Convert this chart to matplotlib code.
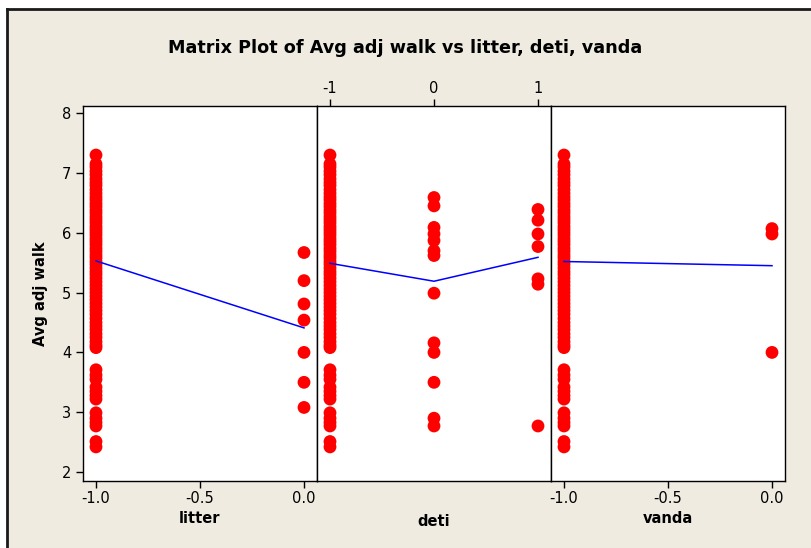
import matplotlib.pyplot as plt
from matplotlib.patches import Rectangle
from matplotlib.lines import Line2D

# Avg adj walk for the observations coded -1 (dense column, same in each panel)
walk_neg = [7.30, 7.15, 7.10, 7.03, 6.97, 6.90, 6.84, 6.79, 6.72, 6.66, 6.60, 6.55,
            6.49, 6.44, 6.38, 6.33, 6.27, 6.22, 6.17, 6.11, 6.06, 6.01, 5.96, 5.90,
            5.85, 5.80, 5.74, 5.69, 5.63, 5.58, 5.52, 5.47, 5.41, 5.35, 5.30, 5.24,
            5.18, 5.12, 5.06, 5.00, 4.94, 4.88, 4.82, 4.76, 4.70, 4.64, 4.57, 4.50,
            4.44, 4.38, 4.31, 4.25, 4.18, 4.12, 4.08, 3.71, 3.62, 3.55, 3.42, 3.35,
            3.28, 3.22, 2.99, 2.90, 2.83, 2.77, 2.51, 2.42]

# other groups
walk_litter0 = [5.67, 5.20, 4.81, 4.54, 4.00, 3.50, 3.08]
walk_deti0 = [6.59, 6.45, 6.09, 5.98, 5.87, 5.70, 5.62, 4.99, 4.16, 4.00, 3.50, 2.90, 2.77]
walk_deti1 = [6.39, 6.21, 5.98, 5.77, 5.23, 5.14, 2.77]
walk_vanda0 = [6.07, 5.98, 4.00]

# smoother values
fit_litter = [5.53, 4.41]
fit_deti = [5.49, 5.19, 5.59]
fit_vanda = [5.52, 5.45]

panels = [
    ("litter", [(-1, walk_neg), (0, walk_litter0)], [-1, 0], fit_litter,
     [-1.0, -0.5, 0.0], ["-1.0", "-0.5", "0.0"], (-1.0625, 0.0625)),
    ("deti", [(-1, walk_neg), (0, walk_deti0), (1, walk_deti1)], [-1, 0, 1], fit_deti,
     [-1, 0, 1], ["-1", "0", "1"], (-1.125, 1.125)),
    ("vanda", [(-1, walk_neg), (0, walk_vanda0)], [-1, 0], fit_vanda,
     [-1.0, -0.5, 0.0], ["-1.0", "-0.5", "0.0"], (-1.0625, 0.0625)),
]

bg = "#EFEBE1"
fig = plt.figure(figsize=(8.11, 5.48), dpi=100, facecolor="white")
# beige panel with dark border on top and left
fig.patches.append(Rectangle((7 / 811, 0), 1, 1 - 9 / 548, transform=fig.transFigure,
                             facecolor=bg, edgecolor="none", zorder=-10))
fig.lines.append(Line2D([7 / 811, 1], [1 - 9 / 548] * 2, transform=fig.transFigure,
                        color="#1a1a1a", lw=2))
fig.lines.append(Line2D([7 / 811] * 2, [0, 1 - 9 / 548], transform=fig.transFigure,
                        color="#1a1a1a", lw=2))

left = 83 / 811
w = 234 / 811
bottom = 1 - 481 / 548
h = 375 / 548

for i, (name, groups, fx, fy, ticks, labels, xlim) in enumerate(panels):
    ax = fig.add_axes([left + i * w, bottom, w, h])
    for x, ys in groups:
        ax.scatter([x] * len(ys), ys, s=85, color="#FF0000", edgecolors="none", zorder=3)
    ax.plot(fx, fy, color="#0000FF", lw=1.1, zorder=4)
    ax.set_xlim(*xlim)
    ax.set_ylim(1.85, 8.12)
    for sp in ax.spines.values():
        sp.set_linewidth(1.0)
        sp.set_color("black")
    ax.tick_params(direction="out", length=5, width=1, labelsize=10.5, colors="black")
    if i == 0:
        ax.set_yticks([2, 3, 4, 5, 6, 7, 8])
        ax.set_ylabel("Avg adj walk", fontsize=10.5, fontweight="bold", labelpad=10)
    else:
        ax.set_yticks([])
    ax.set_xticks(ticks)
    ax.set_xticklabels(labels)
    if i == 1:
        ax.xaxis.tick_top()
        ax.tick_params(axis="x", pad=2)
    else:
        ax.tick_params(axis="x", pad=2)
    ax.set_xlabel(name, fontsize=10.5, fontweight="bold", labelpad=24 if i == 1 else 4)
    ax.xaxis.set_label_position("bottom")

fig.text(0.5, 1 - 48 / 548, "Matrix Plot of Avg adj walk vs litter, deti, vanda",
         ha="center", va="center", fontsize=12.7, fontweight="bold")

fig.savefig("out.png", dpi=100, facecolor=fig.get_facecolor())
